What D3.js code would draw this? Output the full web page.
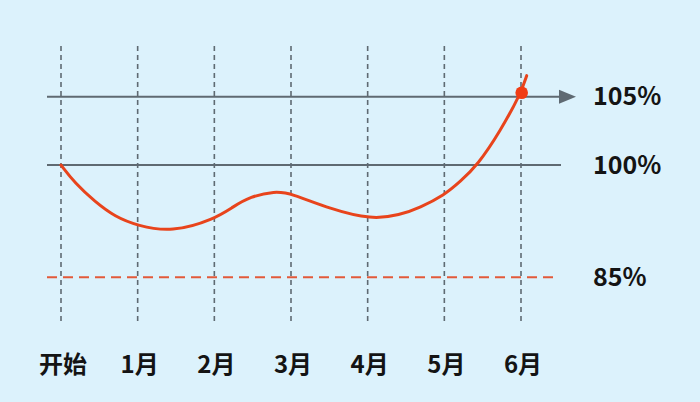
<!DOCTYPE html>
<html>
<head>
<meta charset="utf-8">
<script src="https://cdn.jsdelivr.net/npm/d3@7"></script>
<style>
  html, body { margin: 0; padding: 0; background: #dcf2fc; }
  svg { display: block; }
  text { font-family: "Noto Sans CJK SC", "Noto Sans", sans-serif; font-weight: 700; fill: #141414; }
</style>
</head>
<body>
<svg id="chart" width="700" height="402"></svg>
<script>
// ---- data ----
const categories = ["开始", "1月", "2月", "3月", "4月", "5月", "6月"];
// curve samples: position in months, value in %
const curveMonths = [0, 0.183, 0.443, 0.704, 1, 1.444, 2, 2.247, 2.465, 2.791, 3, 3.509, 4.053, 4.42, 4.68, 5, 5.204, 5.435, 5.726, 6, 6.074];
const curveValues = [100, 97.56, 95.1, 93.09, 91.89, 91.0, 92.75, 94.43, 95.77, 96.5, 96.22, 94.12, 92.7, 93.32, 94.3, 95.99, 97.77, 100, 102.44, 105.27, 106.54];
const refLevels = [105, 100, 85];
const refLabels = ["105%", "100%", "85%"];
const targetMonth = 6;
const targetValue = 105;

// ---- layout ----
const svg = d3.select("#chart");
const x = d3.scaleLinear().domain([0, 6]).range([61, 521]);
// schematic (non-uniform) value axis
const y = d3.scaleLinear().domain([85, 100, 105]).range([277.3, 165, 96.7]);

const red = "#e8441c";
const grey = "#5f6a72";

// vertical dashed grid lines
svg.append("g").selectAll("line")
  .data(categories)
  .join("line")
  .attr("x1", (d, i) => x(i)).attr("x2", (d, i) => x(i))
  .attr("y1", 46).attr("y2", 323)
  .attr("stroke", grey).attr("stroke-width", 1.6)
  .attr("stroke-dasharray", "5,4");

// reference lines
const lineX0 = 47, lineX1 = 561;
svg.append("line")
  .attr("x1", lineX0).attr("x2", lineX1)
  .attr("y1", y(100)).attr("y2", y(100))
  .attr("stroke", grey).attr("stroke-width", 2);
svg.append("line")
  .attr("x1", lineX0).attr("x2", lineX1)
  .attr("y1", y(105)).attr("y2", y(105))
  .attr("stroke", grey).attr("stroke-width", 2);
// arrow head on 105% line
svg.append("path")
  .attr("d", `M${lineX1 - 2},${y(105) - 7}L${lineX1 + 15},${y(105)}L${lineX1 - 2},${y(105) + 7}Z`)
  .attr("fill", grey);
// 85% dashed red line
svg.append("line")
  .attr("x1", lineX0).attr("x2", 557)
  .attr("y1", y(85)).attr("y2", y(85))
  .attr("stroke", "#e25a3a").attr("stroke-width", 2)
  .attr("stroke-dasharray", "10,6");

// curve
const pts = curveMonths.map((m, i) => [m, curveValues[i]]);
const line = d3.line()
  .x(d => x(d[0]))
  .y(d => y(d[1]))
  .curve(d3.curveBasis);
svg.append("path")
  .datum(pts)
  .attr("d", line)
  .attr("fill", "none")
  .attr("stroke", red)
  .attr("stroke-width", 3)
  .attr("stroke-linecap", "round");

// target dot
svg.append("circle")
  .attr("cx", x(targetMonth) + 0.7)
  .attr("cy", y(targetValue) - 4)
  .attr("r", 6.3)
  .attr("fill", "#f03c14");

// right labels
svg.append("g").selectAll("text")
  .data(refLevels)
  .join("text")
  .attr("x", 593)
  .attr("y", d => y(d) + 2)
  .attr("dominant-baseline", "middle")
  .attr("font-size", 25)
  .text((d, i) => refLabels[i]);

// x labels
svg.append("g").selectAll("text")
  .data(categories)
  .join("text")
  .attr("x", (d, i) => x(i) + 2)
  .attr("y", 373)
  .attr("text-anchor", "middle")
  .attr("font-size", 24)
  .text(d => d);
</script>
</body>
</html>
